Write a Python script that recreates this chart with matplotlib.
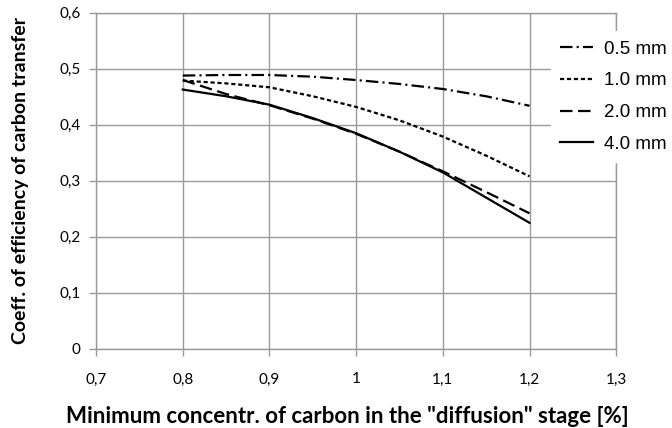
import matplotlib
matplotlib.use("Agg")
import matplotlib.pyplot as plt

# Data
conc = [0.80, 0.85, 0.90, 0.95, 1.00, 1.05, 1.10, 1.15, 1.20]
eff_05mm = [0.488, 0.489, 0.489, 0.486, 0.480, 0.473, 0.464, 0.451, 0.434]
eff_10mm = [0.479, 0.474, 0.467, 0.451, 0.432, 0.408, 0.379, 0.345, 0.308]
eff_20mm = [0.480, 0.455, 0.435, 0.411, 0.384, 0.352, 0.317, 0.280, 0.242]
eff_40mm = [0.463, 0.451, 0.436, 0.412, 0.385, 0.352, 0.315, 0.270, 0.225]
series_labels = ["0.5 mm", "1.0 mm", "2.0 mm", "4.0 mm"]

x_ticks = [0.7, 0.8, 0.9, 1.0, 1.1, 1.2, 1.3]
x_ticklabels = ["0,7", "0,8", "0,9", "1", "1,1", "1,2", "1,3"]
y_ticks = [0, 0.1, 0.2, 0.3, 0.4, 0.5, 0.6]
y_ticklabels = ["0", "0,1", "0,2", "0,3", "0,4", "0,5", "0,6"]

plt.rcParams["lines.scale_dashes"] = False
grid_color = "#9a9a9a"

fig = plt.figure(figsize=(6.72, 4.28), dpi=100)
ax = fig.add_axes([0.143, 0.185, 0.774, 0.785])

styles = [(0, (9, 3, 1.5, 3)), (0, (3, 2)), (0, (9, 4)), "-"]
for vals, ls, lab in zip([eff_05mm, eff_10mm, eff_20mm, eff_40mm], styles, series_labels):
    ax.plot(conc, vals, color="black", linewidth=1.6, linestyle=ls, label=lab)

ax.set_xlim(0.7, 1.3)
ax.set_ylim(0, 0.6)
ax.set_xticks(x_ticks)
ax.set_xticklabels(x_ticklabels, fontfamily="Lato", fontsize=11)
ax.set_yticks(y_ticks)
ax.set_yticklabels(y_ticklabels, fontfamily="Lato", fontsize=11)
ax.tick_params(axis="both", length=5, color=grid_color, width=1)
ax.tick_params(axis="x", pad=12)
ax.tick_params(axis="y", pad=6)

ax.grid(True, color=grid_color, linewidth=1)
ax.set_axisbelow(True)
for sp in ax.spines.values():
    sp.set_color(grid_color)
    sp.set_linewidth(1)

ax.set_xlabel('Minimum concentr. of carbon in the "diffusion" stage [%]',
              fontfamily="Lato", fontweight="bold", fontsize=16, labelpad=12)
ax.xaxis.set_label_coords(0.484, -0.17)
ax.set_ylabel("Coeff. of efficiency of carbon transfer",
              fontfamily="Lato", fontweight="bold", fontsize=14, labelpad=22)

leg = fig.legend(loc="upper left", bbox_to_anchor=(0.82, 0.927),
                 frameon=True, fancybox=False, edgecolor="white", facecolor="white",
                 framealpha=1, handlelength=1.75, handletextpad=0.6,
                 labelspacing=0.78, borderpad=0.5, borderaxespad=0,
                 prop={"family": "Liberation Sans", "size": 13.5})

fig.savefig("out.png", dpi=100)
